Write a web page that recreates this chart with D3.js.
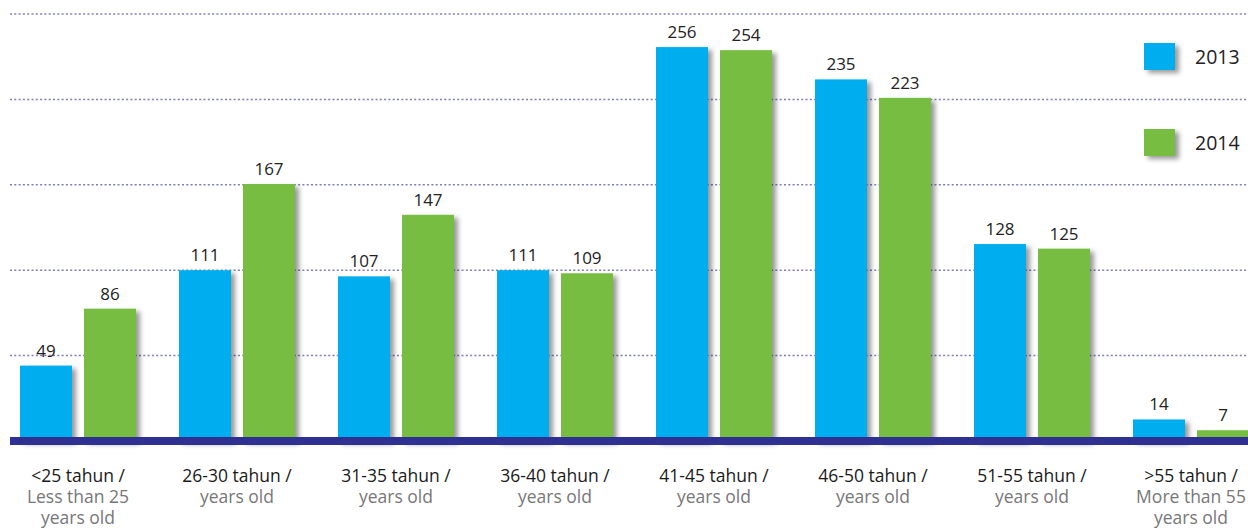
<!DOCTYPE html>
<meta charset="utf-8">
<style>
body { margin: 0; background: #fff; }
text { font-family: "Open Sans", sans-serif; }
.grid line { stroke: #5f5bab; stroke-width: 1.5px; stroke-dasharray: 2,2.3; stroke-opacity: 0.8; }
.value { font-size: 17px; fill: #222; text-anchor: middle; }
.cat { font-size: 17.5px; text-anchor: middle; }
.legend text { font-size: 19.5px; fill: #222; }
</style>
<svg width="1248" height="528"></svg>
<script src="https://d3js.org/d3.v7.min.js"></script>
<script>

var categories = ["<25", "26-30", "31-35", "36-40", "41-45", "46-50", "51-55", ">55"];
var labelTop = ["<25 tahun /", "26-30 tahun /", "31-35 tahun /", "36-40 tahun /",
                "41-45 tahun /", "46-50 tahun /", "51-55 tahun /", ">55 tahun /"];
var labelBottom = [["Less than 25", "years old"], ["years old"], ["years old"], ["years old"],
                   ["years old"], ["years old"], ["years old"], ["More than 55", "years old"]];
var years = ["2013", "2014"];
var values2013 = [49, 111, 107, 111, 256, 235, 128, 14];
var values2014 = [86, 167, 147, 109, 254, 223, 125, 7];
var gridValues = [55.5, 111, 166.5, 222, 277.5];
var colors = ["#00aeef", "#76bd43"];

var svg = d3.select("svg");

var defs = svg.append("defs");
var f = defs.append("filter").attr("id", "shadow")
    .attr("x", "-20%").attr("y", "-20%").attr("width", "150%").attr("height", "150%");
f.append("feDropShadow")
    .attr("dx", 4).attr("dy", 3).attr("stdDeviation", 2.5)
    .attr("flood-color", "#000").attr("flood-opacity", 0.4);

var y = d3.scaleLinear().domain([0, 277.5]).range([441, 14]);

var x0 = d3.scaleBand().domain(categories).range([20, 1249])
    .paddingInner(43 / 159).paddingOuter(0);
var x1 = d3.scaleBand().domain(years).range([0, x0.bandwidth()])
    .paddingInner(12 / 64);

// grid
svg.append("g").attr("class", "grid")
  .selectAll("line")
  .data(gridValues)
  .enter().append("line")
    .attr("x1", 10).attr("x2", 1248)
    .attr("y1", function(d) { return y(d); })
    .attr("y2", function(d) { return y(d); });

var rows = categories.map(function(c, i) {
  return { cat: c, vals: [values2013[i], values2014[i]] };
});

var group = svg.append("g")
  .selectAll("g")
  .data(rows)
  .enter().append("g")
    .attr("transform", function(d) { return "translate(" + x0(d.cat) + ",0)"; });

group.selectAll("rect")
  .data(function(d) { return d.vals.map(function(v, j) { return { year: years[j], v: v, j: j }; }); })
  .enter().append("rect")
    .attr("x", function(d) { return x1(d.year); })
    .attr("y", function(d) { return y(d.v); })
    .attr("width", x1.bandwidth())
    .attr("height", function(d) { return y(0) - y(d.v); })
    .attr("fill", function(d) { return colors[d.j]; })
    .attr("filter", "url(#shadow)");

group.selectAll("text.value")
  .data(function(d) { return d.vals.map(function(v, j) { return { year: years[j], v: v }; }); })
  .enter().append("text")
    .attr("class", "value")
    .attr("x", function(d) { return x1(d.year) + x1.bandwidth() / 2; })
    .attr("y", function(d) { return y(d.v) - 9; })
    .text(function(d) { return d.v; });

// baseline
svg.append("rect")
    .attr("x", 10).attr("y", 437)
    .attr("width", 1238).attr("height", 8)
    .attr("fill", "#2e3192");

// category labels
var cats = svg.append("g")
  .selectAll("text")
  .data(categories)
  .enter().append("text")
    .attr("class", "cat")
    .attr("x", function(d) { return x0(d) + x0.bandwidth() / 2; })
    .attr("y", 482);

cats.append("tspan")
    .attr("fill", "#1a1a1a")
    .text(function(d, i) { return labelTop[i]; });

cats.each(function(d, i) {
  var t = d3.select(this);
  labelBottom[i].forEach(function(s, k) {
    t.append("tspan")
      .attr("x", x0(d) + x0.bandwidth() / 2)
      .attr("y", 503 + k * 21)
      .attr("fill", "#777")
      .text(s);
  });
});

// legend
var legend = svg.append("g").attr("class", "legend")
  .selectAll("g")
  .data(years)
  .enter().append("g")
    .attr("transform", function(d, i) { return "translate(1144," + (43 + i * 86) + ")"; });

legend.append("rect")
    .attr("width", 31).attr("height", 27)
    .attr("fill", function(d, i) { return colors[i]; })
    .attr("filter", "url(#shadow)");

legend.append("text")
    .attr("x", 51).attr("y", 21)
    .text(function(d) { return d; });

</script>
